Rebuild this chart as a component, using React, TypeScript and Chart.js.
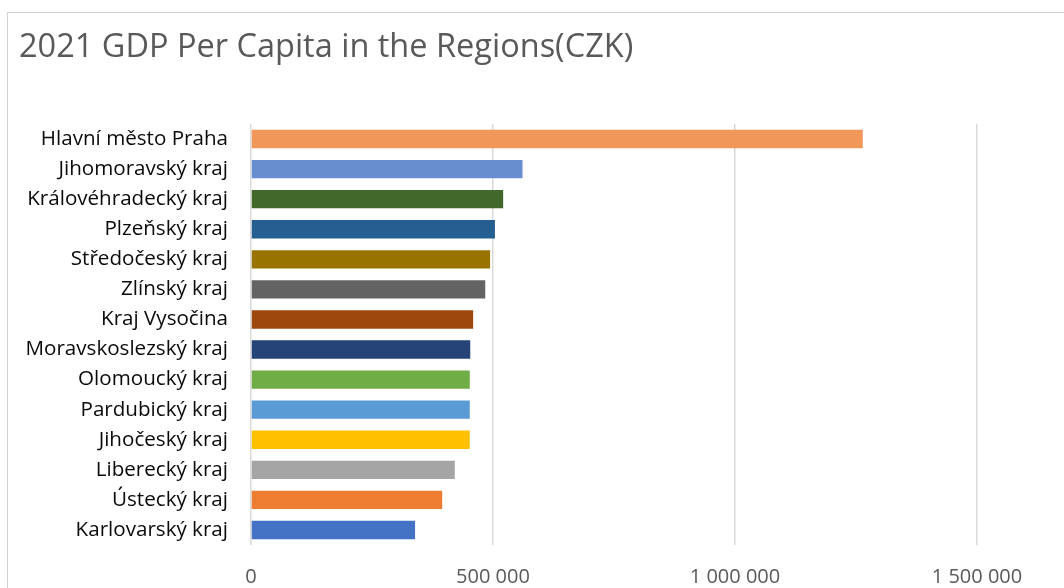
import React, { useEffect, useRef } from 'react';
import { Chart, registerables } from 'chart.js';

Chart.register(...registerables);

const titleText = '2021 GDP Per Capita in the Regions(CZK)';

const regions = [
  'Hlavní město Praha',
  'Jihomoravský kraj',
  'Královéhradecký kraj',
  'Plzeňský kraj',
  'Středočeský kraj',
  'Zlínský kraj',
  'Kraj Vysočina',
  'Moravskoslezský kraj',
  'Olomoucký kraj',
  'Pardubický kraj',
  'Jihočeský kraj',
  'Liberecký kraj',
  'Ústecký kraj',
  'Karlovarský kraj',
];

const gdpPerCapita = [
  1264000, 561000, 521000, 504000, 494000, 484000, 459000,
  453000, 452000, 452000, 452000, 421000, 395000, 339000,
];

const barColors = [
  '#F1975A', '#698ED0', '#43682B', '#255E91', '#997300', '#636363', '#9E480E',
  '#264478', '#70AD47', '#5B9BD5', '#FFC000', '#A5A5A5', '#ED7D31', '#4472C4',
];

const xTickValues = [0, 500000, 1000000, 1500000];

const formatCz = (v: number) =>
  String(Math.round(v)).replace(/\B(?=(\d{3})+(?!\d))/g, ' ');

export default function App() {
  const ref = useRef<HTMLCanvasElement>(null);

  useEffect(() => {
    if (!ref.current) return;
    const chart = new Chart(ref.current, {
      type: 'bar',
      data: {
        labels: regions,
        datasets: [
          {
            data: gdpPerCapita,
            backgroundColor: barColors,
            borderWidth: 0,
            barPercentage: 0.61,
            categoryPercentage: 1,
          },
        ],
      },
      options: {
        indexAxis: 'y',
        responsive: false,
        animation: false,
        layout: { padding: { left: 19, right: 87, top: 0, bottom: 0 } },
        plugins: {
          legend: { display: false },
          tooltip: { enabled: false },
          title: {
            display: true,
            text: titleText,
            align: 'start',
            color: '#595959',
            font: { family: 'Open Sans', size: 32.5, weight: 'normal' },
            padding: { top: 28, bottom: 57 },
          },
        },
        scales: {
          x: {
            min: 0,
            max: 1500000,
            afterBuildTicks: (s: any) => {
              s.ticks = xTickValues.map((v) => ({ value: v }));
            },
            afterFit: (s: any) => {
              s.height = 43;
            },
            ticks: {
              color: '#595959',
              font: { family: 'Open Sans', size: 20 },
              padding: 20,
              maxRotation: 0,
              callback: (v: any) => formatCz(Number(v)),
            },
            grid: { color: '#d9d9d9', lineWidth: 1.5, drawTicks: false },
            border: { display: false },
          },
          y: {
            afterFit: (s: any) => {
              s.width = 232;
            },
            ticks: {
              color: '#0a0a0a',
              font: { family: 'Open Sans', size: 20.6 },
              padding: 23,
            },
            grid: { display: false, drawTicks: false },
            border: { display: false },
          },
        },
      },
    });
    return () => chart.destroy();
  }, []);

  return (
    <div
      style={{
        position: 'fixed',
        left: 0,
        top: 0,
        width: 1064,
        height: 588,
        overflow: 'hidden',
        background: '#ffffff',
      }}
    >
      <div
        style={{
          position: 'absolute',
          left: 7,
          top: 12,
          width: 1200,
          height: 700,
          border: '1px solid #d0d0d0',
          boxSizing: 'border-box',
        }}
      />
      <canvas
        ref={ref}
        width={1064}
        height={588}
        style={{ position: 'absolute', left: 0, top: 0 }}
      />
    </div>
  );
}
